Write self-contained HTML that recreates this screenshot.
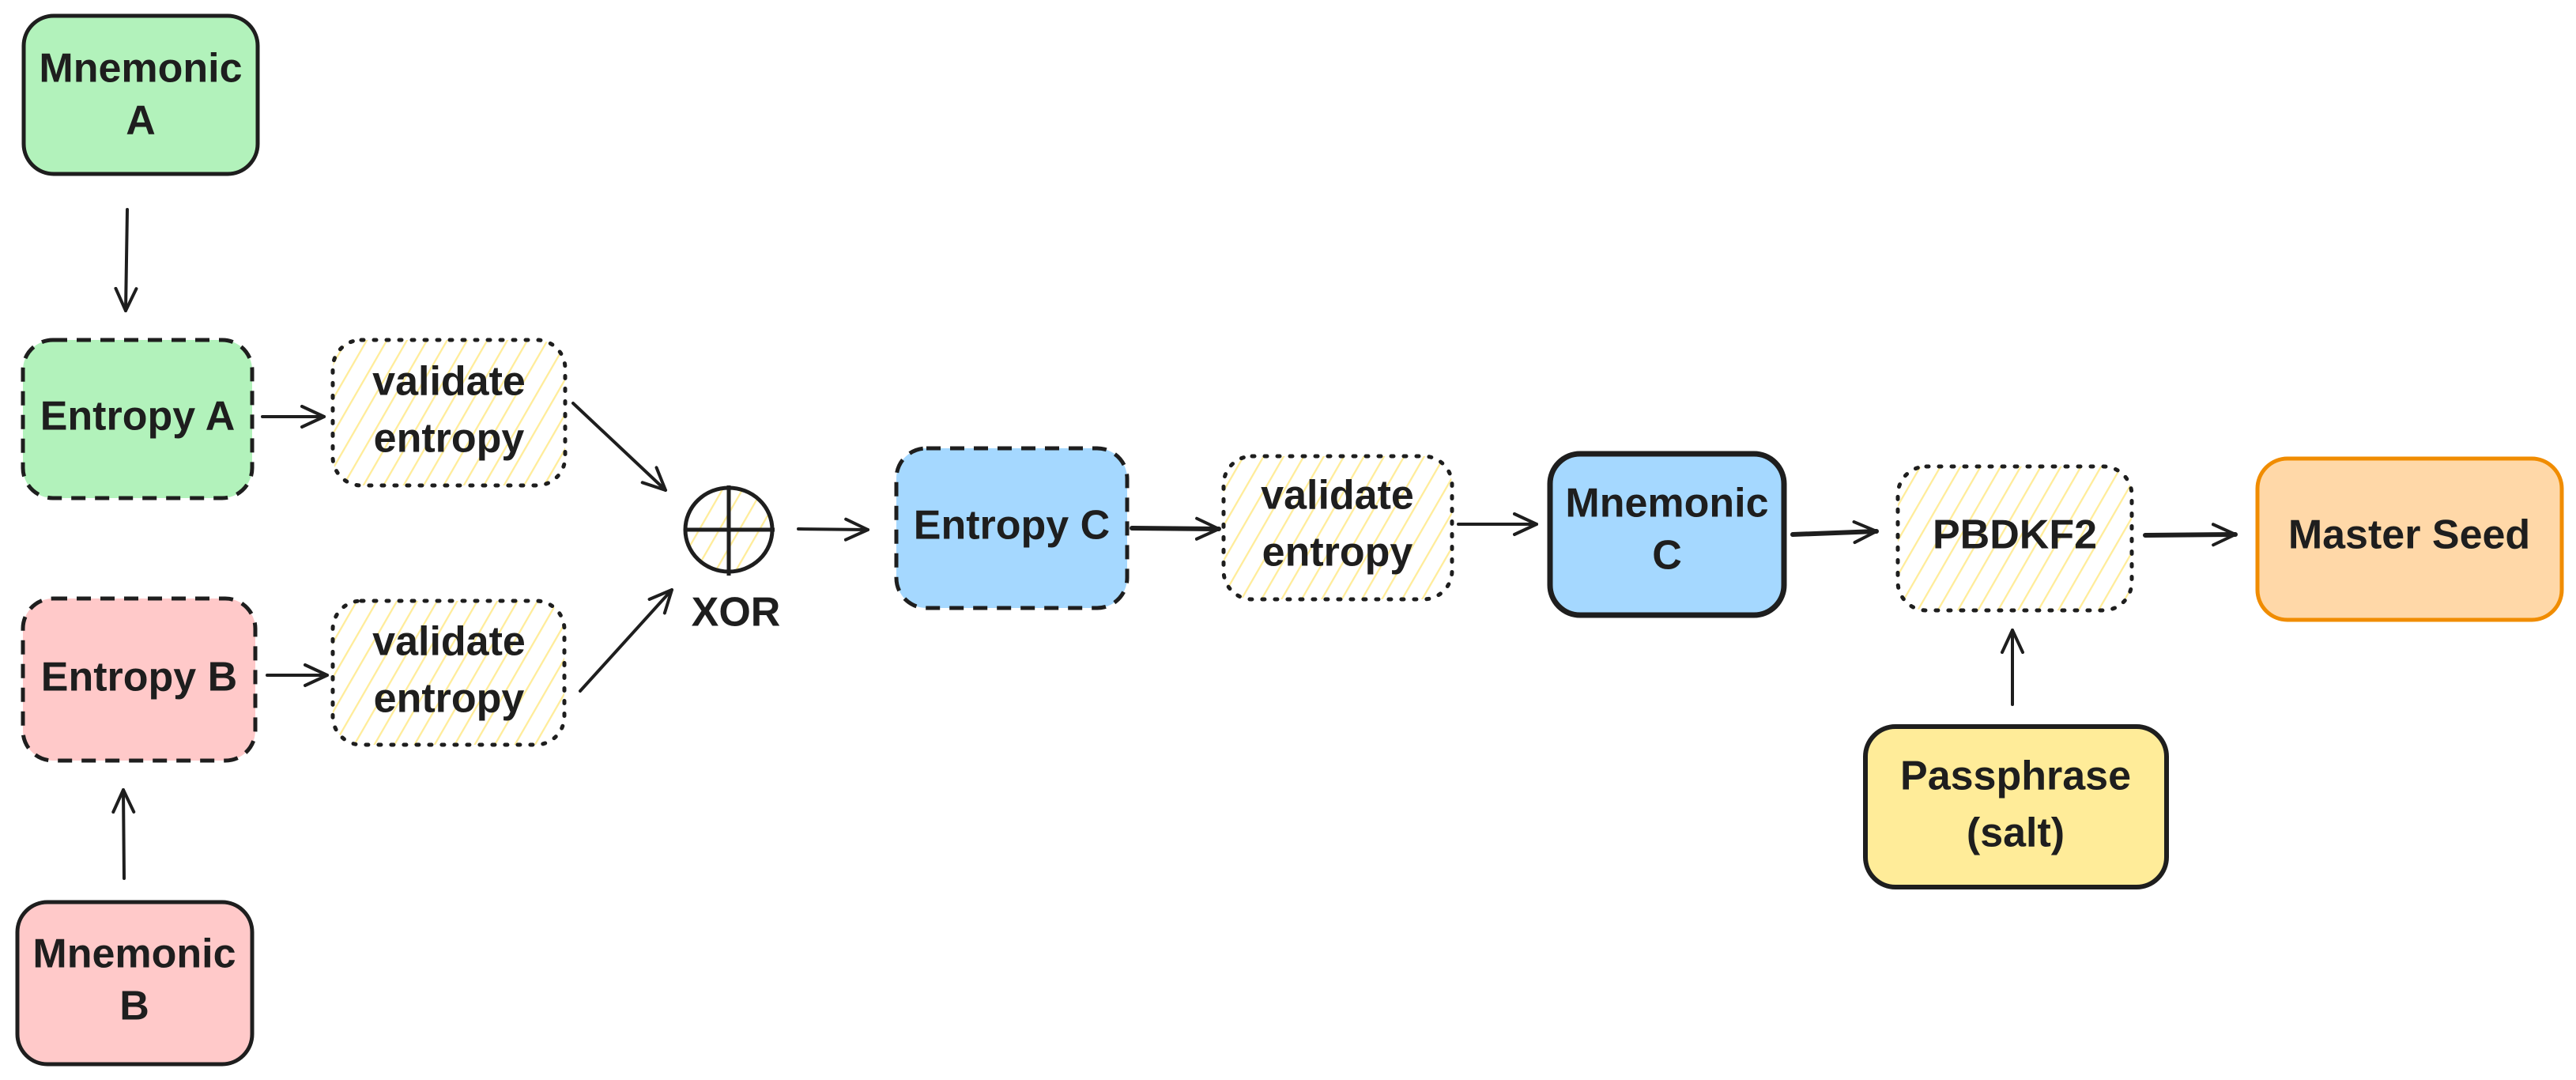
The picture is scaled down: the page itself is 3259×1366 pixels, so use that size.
<!DOCTYPE html>
<html><head><meta charset="utf-8"><style>
html,body{margin:0;padding:0;background:#fff}
svg{display:block}
text{font-family:"Liberation Sans",sans-serif;font-size:52px;font-weight:bold;fill:#1e1e1e;text-anchor:middle;dominant-baseline:middle}
</style></head><body>
<svg width="3259" height="1366" viewBox="0 0 3259 1366" xmlns="http://www.w3.org/2000/svg">
<defs>
<pattern id="h" patternUnits="userSpaceOnUse" width="22" height="22" patternTransform="rotate(30)">
<line x1="0" y1="0" x2="0" y2="22" stroke="#ffec99" stroke-width="4.5"/>
</pattern>
<marker id="ar" markerWidth="40" markerHeight="40" refX="30" refY="15" orient="auto" markerUnits="userSpaceOnUse">
<path d="M2,2 L30,15 L2,28" fill="none" stroke="#1e1e1e" stroke-width="4" stroke-linecap="round" stroke-linejoin="round"/>
</marker>
</defs>
<g stroke="#1e1e1e" stroke-width="5">
<rect x="30" y="20" width="296" height="200" rx="38" fill="#b2f2bb"/>
<rect x="29" y="430" width="290" height="200" rx="38" fill="#b2f2bb" stroke-dasharray="18 12"/>
<rect x="421" y="430" width="294" height="184" rx="36" fill="url(#h)" stroke-dasharray="3 13" stroke-linecap="round"/>
<rect x="29" y="757" width="294" height="205" rx="38" fill="#ffc9c9" stroke-dasharray="18 12"/>
<rect x="421" y="760" width="293" height="182" rx="36" fill="url(#h)" stroke-dasharray="3 13" stroke-linecap="round"/>
<rect x="22" y="1141" width="297" height="205" rx="38" fill="#ffc9c9"/>
<ellipse cx="922" cy="670" rx="55" ry="53" fill="url(#h)"/>
<line x1="866" y1="670" x2="980" y2="670"/>
<line x1="922" y1="614" x2="922" y2="728"/>
<rect x="1134" y="567" width="292" height="202" rx="38" fill="#a5d8ff" stroke-dasharray="18 12"/>
<rect x="1548" y="577" width="289" height="181" rx="36" fill="url(#h)" stroke-dasharray="3 13" stroke-linecap="round"/>
<rect x="1961" y="574" width="296" height="204" rx="38" fill="#a5d8ff" stroke-width="7"/>
<rect x="2401" y="590" width="296" height="182" rx="36" fill="url(#h)" stroke-dasharray="3 13" stroke-linecap="round"/>
<rect x="2856" y="580" width="385" height="204" rx="38" fill="#ffd8a8" stroke="#f08c00"/>
<rect x="2360" y="919" width="381" height="203" rx="38" fill="#ffec99" stroke-width="6"/>
</g>
<g stroke="#1e1e1e" stroke-width="4" fill="none" marker-end="url(#ar)" stroke-linecap="round">
<line x1="161" y1="265" x2="159" y2="393"/>
<line x1="157" y1="1111" x2="156" y2="999"/>
<line x1="332" y1="527" x2="410" y2="527"/>
<line x1="338" y1="854" x2="414" y2="854"/>
<line x1="725" y1="510" x2="842" y2="620"/>
<line x1="734" y1="874" x2="850" y2="746"/>
<line x1="1010" y1="669" x2="1098" y2="670"/>
<line x1="1432" y1="668" x2="1542" y2="669" stroke-width="6"/>
<line x1="1845" y1="663" x2="1944" y2="663"/>
<line x1="2268" y1="676" x2="2374" y2="672" stroke-width="6"/>
<line x1="2714" y1="677" x2="2828" y2="676" stroke-width="6"/>
<line x1="2546" y1="891" x2="2546" y2="797"/>
</g>
<text x="178" y="90">Mnemonic</text><text x="178" y="156">A</text>
<text x="174" y="530">Entropy A</text>
<text x="568" y="486">validate</text><text x="568" y="558">entropy</text>
<text x="176" y="860">Entropy B</text>
<text x="568" y="815">validate</text><text x="568" y="887">entropy</text>
<text x="170" y="1210">Mnemonic</text><text x="170" y="1276">B</text>
<text x="931" y="778">XOR</text>
<text x="1280" y="668">Entropy C</text>
<text x="1692" y="630">validate</text><text x="1692" y="702">entropy</text>
<text x="2109" y="640">Mnemonic</text><text x="2109" y="706">C</text>
<text x="2549" y="680">PBDKF2</text>
<text x="3048" y="680">Master Seed</text>
<text x="2550" y="985">Passphrase</text><text x="2550" y="1057">(salt)</text>
</svg>
</body></html>
